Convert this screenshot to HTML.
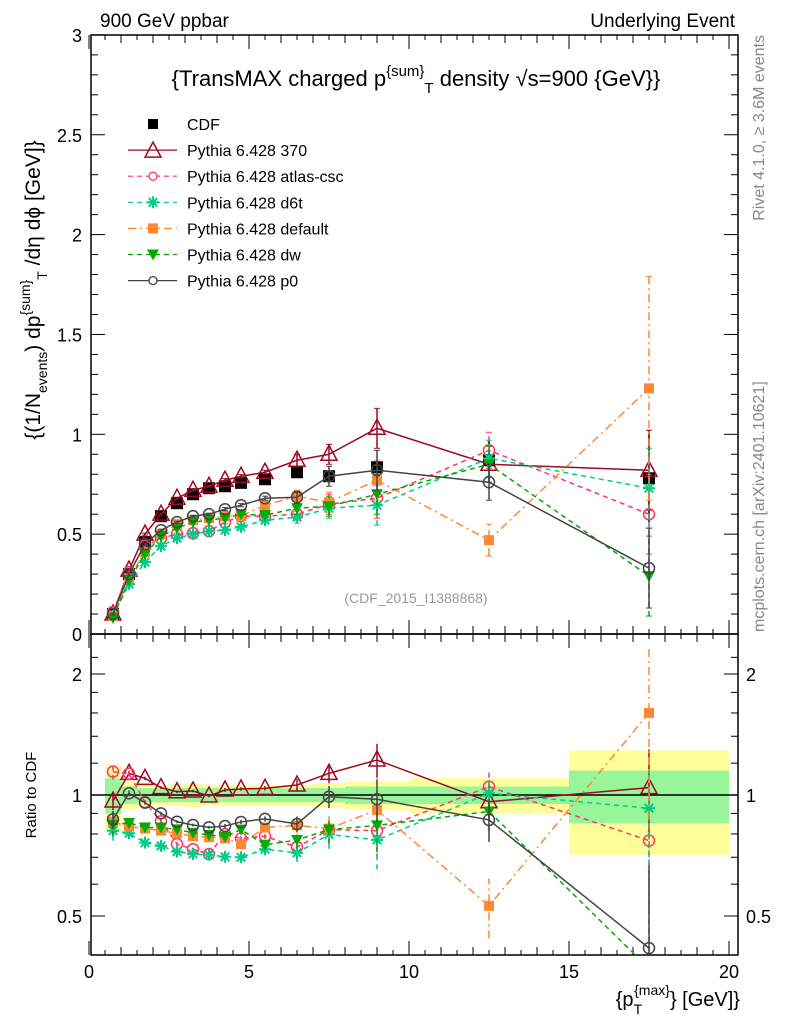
<!DOCTYPE html>
<html><head><meta charset="utf-8">
<style>
html,body{margin:0;padding:0;background:#fff;}
svg{display:block;font-family:"Liberation Sans",sans-serif;}
</style></head>
<body>
<svg id="chart" width="786" height="1024" viewBox="0 0 786 1024" xmlns="http://www.w3.org/2000/svg">
<text x="100" y="27" font-size="19">900 GeV ppbar</text>
<text x="735" y="27" font-size="19" text-anchor="end">Underlying Event</text>
<text x="416" y="86" font-size="22" text-anchor="middle">{TransMAX charged p<tspan dy="-10" font-size="15">{sum}</tspan><tspan dy="17" font-size="15">T</tspan><tspan dy="-7"> density √s=900 {GeV}}</tspan></text>
<text transform="translate(764,35) rotate(-90)" font-size="16" fill="#888" text-anchor="end">Rivet 4.1.0, ≥ 3.6M events</text>
<text transform="translate(764,632) rotate(-90)" font-size="16" fill="#888">mcplots.cern.ch [arXiv:2401.10621]</text>
<text x="416" y="603" font-size="14" fill="#999" text-anchor="middle">(CDF_2015_I1388868)</text>
<text transform="translate(40,290) rotate(-90)" font-size="21" text-anchor="middle">{(1/N<tspan dy="7" font-size="14">events</tspan><tspan dy="-7">) dp</tspan><tspan dy="-10" font-size="14">{sum}</tspan><tspan dy="17" font-size="14">T</tspan><tspan dy="-7"> /dη  dϕ [GeV]}</tspan></text>
<text transform="translate(36,795) rotate(-90)" font-size="15" text-anchor="middle">Ratio to CDF</text>
<text x="740" y="1006" font-size="20" text-anchor="end">{p<tspan dy="8" font-size="14">T</tspan><tspan dy="-19" font-size="14" dx="-8">{max}</tspan><tspan dy="11">} [GeV]}</tspan></text>
<g id="g"></g>
</svg>
<script>
const xs = [0.75,1.25,1.75,2.25,2.75,3.25,3.75,4.25,4.75,5.5,6.5,7.5,9,12.5,17.5];
const cdf = [0.10,0.30,0.46,0.59,0.655,0.70,0.73,0.74,0.757,0.775,0.81,0.79,0.835,0.87,0.78];
const cdfErr = [0.01,0.01,0.01,0.01,0.01,0.01,0.01,0.01,0.01,0.01,0.01,0.02,0.03,0.1,0.22];
const s370 = [0.10,0.32,0.50,0.60,0.68,0.72,0.74,0.77,0.79,0.81,0.87,0.90,1.03,0.85,0.82];
const sAtlas = [0.11,0.31,0.44,0.48,0.50,0.505,0.515,0.56,0.59,0.59,0.60,0.65,0.68,0.92,0.60];
const sD6t = [0.09,0.25,0.36,0.44,0.48,0.50,0.515,0.52,0.537,0.57,0.585,0.63,0.645,0.88,0.73];
const sDefault = [0.09,0.28,0.41,0.50,0.55,0.57,0.58,0.59,0.59,0.645,0.69,0.66,0.77,0.47,1.23];
const sDw = [0.08,0.27,0.40,0.49,0.53,0.56,0.57,0.58,0.60,0.595,0.63,0.64,0.70,0.85,0.29];
const sP0 = [0.10,0.30,0.45,0.52,0.56,0.59,0.60,0.625,0.645,0.68,0.685,0.79,0.82,0.76,0.33];
const err = [0.005,0.005,0.005,0.005,0.005,0.005,0.005,0.008,0.008,0.01,0.03,0.05,0.1,0.09,0.2];
const errDefault = [0.005,0.005,0.005,0.005,0.005,0.005,0.005,0.008,0.008,0.01,0.03,0.05,0.1,0.08,0.56];
const r370 = [0.966,1.132,1.10,1.043,1.019,1.023,0.994,1.029,1.035,1.039,1.059,1.132,1.222,0.962,1.043];
const rAtlas = [1.143,1.13,0.96,0.86,0.755,0.733,0.713,0.80,0.78,0.79,0.742,0.82,0.815,1.049,0.77];
const rD6t = [0.815,0.803,0.761,0.747,0.723,0.713,0.71,0.702,0.70,0.733,0.718,0.798,0.773,1.01,0.927];
const rDefault = [0.858,0.834,0.825,0.815,0.803,0.79,0.785,0.78,0.755,0.83,0.84,0.825,0.918,0.53,1.6];
const rDw = [0.843,0.852,0.83,0.83,0.821,0.805,0.795,0.787,0.82,0.752,0.773,0.82,0.84,0.91,0.37];
const rP0 = [0.87,1.01,0.957,0.90,0.858,0.842,0.831,0.837,0.857,0.872,0.847,0.99,0.976,0.867,0.416];
const binEdges = [0.5,1,1.5,2,2.5,3,3.5,4,4.5,5,6,7,8,10,15,20];
const bandYellow = [0.19,0.08,0.07,0.06,0.06,0.07,0.06,0.06,0.06,0.06,0.06,0.07,0.08,0.10,0.29];
const bandGreen = [0.10,0.05,0.04,0.04,0.04,0.04,0.04,0.04,0.04,0.04,0.04,0.04,0.05,0.05,0.15];
const xTicks = [0,5,10,15,20];
const yTicks = [0,0.5,1,1.5,2,2.5,3];
const rTicks = [0.5,1,2];

const NS="http://www.w3.org/2000/svg";
const G=document.getElementById('g');
const L=91,R=738,T=35,MB=634,RB=955;
const X=v=>89+v*32;
const Y=v=>MB-v*199.7;
const RY=v=>795-Math.log2(v)*121;
function mk(tag,at,parent){const e=document.createElementNS(NS,tag);for(const k in at)e.setAttribute(k,at[k]);(parent||G).appendChild(e);return e;}

for(let i=0;i<bandYellow.length;i++){
  const x0=X(binEdges[i]),x1=X(binEdges[i+1]);
  const b=mk('rect',{x:x0,y:RY(1+bandYellow[i]),width:x1-x0,height:RY(1-bandYellow[i])-RY(1+bandYellow[i]),fill:'#ffff99'});
  
  
  const c=mk('rect',{x:x0,y:RY(1+bandGreen[i]),width:x1-x0,height:RY(1-bandGreen[i])-RY(1+bandGreen[i]),fill:'#99f599'});
  
  
}
const one=mk('line',{x1:L,x2:R,y1:RY(1),y2:RY(1),stroke:'#000','stroke-width':1.5});



const f1=mk('rect',{x:L,y:T,width:R-L,height:MB-T,fill:'none',stroke:'#000','stroke-width':1.5});


const f2=mk('rect',{x:L,y:MB,width:R-L,height:RB-MB,fill:'none',stroke:'#000','stroke-width':1.5});



for(let v=0;v<=20.3;v+=0.5){
  const big=Math.abs(v%5)<1e-6, mid=Math.abs(v%1)<1e-6;
  const len=big?14:(mid?8:5);
  mk('line',{x1:X(v),x2:X(v),y1:RB,y2:RB-len,stroke:'#000'});
  mk('line',{x1:X(v),x2:X(v),y1:MB,y2:MB-len,stroke:'#000'});
  mk('line',{x1:X(v),x2:X(v),y1:T,y2:T+len,stroke:'#000'});
  mk('line',{x1:X(v),x2:X(v),y1:MB,y2:MB+len,stroke:'#000'});
}
xTicks.forEach(v=>{const t=mk('text',{x:X(v),y:978,'font-size':18,'text-anchor':'middle'});t.textContent=v;

});
for(let i=0;i<=30;i++){const v=i/10;const big=i%5==0;const len=big?14:7;
  mk('line',{x1:L,x2:L+len,y1:Y(v),y2:Y(v),stroke:'#000'});
  mk('line',{x1:R,x2:R-len,y1:Y(v),y2:Y(v),stroke:'#000'});}
yTicks.forEach(v=>{const t=mk('text',{x:82,y:Y(v)+7,'font-size':18,'text-anchor':'end'});t.textContent=v;

});
[0.4,0.5,0.6,0.7,0.8,0.9,1,1.2,1.4,1.6,1.8,2,2.2].forEach(v=>{const big=rTicks.includes(v);const len=big?14:7;const y=RY(v);if(y<MB||y>RB)return;
  mk('line',{x1:L,x2:L+len,y1:y,y2:y,stroke:'#000'});
  mk('line',{x1:R,x2:R-len,y1:y,y2:y,stroke:'#000'});});
rTicks.forEach(v=>{const t=mk('text',{x:82,y:RY(v)+7,'font-size':18,'text-anchor':'end'});t.textContent=v;


const t2=mk('text',{x:746,y:RY(v)+7,'font-size':18});t2.textContent=v;

});

const defs=mk('defs',{});
const c1=mk('clipPath',{id:'cm'},defs);mk('rect',{x:L,y:T,width:R-L,height:MB-T},c1);
const c2=mk('clipPath',{id:'cr'},defs);mk('rect',{x:L,y:MB,width:R-L,height:RB-MB},c2);

function marker(g,type,x,y,col){
  if(type=='sq') return mk('rect',{x:x-6,y:y-6,width:12,height:12,fill:col},g);
  if(type=='fsq') return mk('rect',{x:x-5,y:y-5,width:10,height:10,fill:col},g);
  if(type=='tri') return mk('path',{d:`M${x},${y-9}L${x+8},${y+6}L${x-8},${y+6}Z`,fill:'none',stroke:col,'stroke-width':1.5},g);
  if(type=='dtri') return mk('path',{d:`M${x-6},${y-5}L${x+6},${y-5}L${x},${y+6}Z`,fill:col},g);
  if(type=='circ') return mk('circle',{cx:x,cy:y,r:5.5,fill:'none',stroke:col,'stroke-width':1.5},g);
  if(type=='star'){const p=[];for(let k=0;k<4;k++){const a=k*Math.PI/4;p.push(`M${x-6*Math.cos(a)},${y-6*Math.sin(a)}L${x+6*Math.cos(a)},${y+6*Math.sin(a)}`);}return mk('path',{d:p.join(''),stroke:col,'stroke-width':2},g);}
}
const series=[
 {name:'370',vals:s370,r:r370,col:'#9e0a26',m:'tri',dash:'',e:err},
 {name:'atlas-csc',vals:sAtlas,r:rAtlas,col:'#ff3366',m:'circ',dash:'5,4',e:err},
 {name:'d6t',vals:sD6t,r:rD6t,col:'#00cc88',m:'star',dash:'5,4',e:err},
 {name:'default',vals:sDefault,r:rDefault,col:'#ff8833',m:'fsq',dash:'8,4,2,4',e:errDefault},
 {name:'dw',vals:sDw,r:rDw,col:'#00aa00',m:'dtri',dash:'5,4',e:err},
 {name:'p0',vals:sP0,r:rP0,col:'#444444',m:'circ',dash:'',e:err}
];
const gc=mk('g',{'clip-path':'url(#cm)'});


xs.forEach((x,i)=>{mk('line',{x1:X(x),x2:X(x),y1:Y(cdf[i]-cdfErr[i]),y2:Y(cdf[i]+cdfErr[i]),stroke:'#000','stroke-width':1.5},gc);
 const m=marker(gc,'sq',X(x),Y(cdf[i]),'#000');
 
 });
series.forEach(s=>{
  const g=mk('g',{'clip-path':'url(#cm)'});
  
  
  mk('polyline',{points:xs.map((x,i)=>X(x)+','+Y(s.vals[i])).join(' '),fill:'none',stroke:s.col,'stroke-width':1.5,'stroke-dasharray':s.dash},g);
  xs.forEach((x,i)=>{mk('line',{x1:X(x),x2:X(x),y1:Y(s.vals[i]-s.e[i]),y2:Y(s.vals[i]+s.e[i]),stroke:s.col,'stroke-width':1.5,'stroke-dasharray':s.dash},g);
    mk('line',{x1:X(x)-3,x2:X(x)+3,y1:Y(s.vals[i]-s.e[i]),y2:Y(s.vals[i]-s.e[i]),stroke:s.col},g);
    mk('line',{x1:X(x)-3,x2:X(x)+3,y1:Y(s.vals[i]+s.e[i]),y2:Y(s.vals[i]+s.e[i]),stroke:s.col},g);
    const m=marker(g,s.m,X(x),Y(s.vals[i]),s.col);
    
    });
  const h=mk('g',{'clip-path':'url(#cr)'});
  
  
  mk('polyline',{points:xs.map((x,i)=>X(x)+','+RY(s.r[i])).join(' '),fill:'none',stroke:s.col,'stroke-width':1.5,'stroke-dasharray':s.dash},h);
  xs.forEach((x,i)=>{const re=s.e[i]/Math.max(s.vals[i],0.05)*s.r[i];
    mk('line',{x1:X(x),x2:X(x),y1:RY(Math.max(s.r[i]-re,0.3)),y2:RY(s.r[i]+re),stroke:s.col,'stroke-width':1.5,'stroke-dasharray':s.dash},h);
    const m=marker(h,s.m,X(x),RY(s.r[i]),s.col);
    
    });
});
const lg=mk('g',{});


const ent=[{name:'CDF',m:'sq',col:'#000',dash:null}].concat(series.map(s=>({name:'Pythia 6.428 '+s.name,m:s.m,col:s.col,dash:s.dash})));
ent.forEach((e,i)=>{const y=124+i*26.1;
  const eg=mk('g',{},lg);
  
  
  if(e.dash!==null) mk('line',{x1:128,x2:177,y1:y,y2:y,stroke:e.col,'stroke-width':1.2,'stroke-dasharray':e.dash},eg);
  if(e.m=='sq') mk('rect',{x:148,y:y-5,width:10,height:10,fill:'#000'},eg);
  else if(e.m=='circ') mk('circle',{cx:153,cy:y,r:4,fill:'#fff',stroke:e.col,'stroke-width':1.3},eg);
  else if(e.m=='star') marker(eg,'star',153,y,e.col);
  else if(e.m=='tri') marker(eg,'tri',153,y+1,e.col);
  else if(e.m=='fsq') marker(eg,'fsq',153,y,e.col);
  else marker(eg,'dtri',153,y,e.col);
  const t=mk('text',{x:187,y:y+6,'font-size':16},eg);t.textContent=e.name;});
</script>
</body></html>
